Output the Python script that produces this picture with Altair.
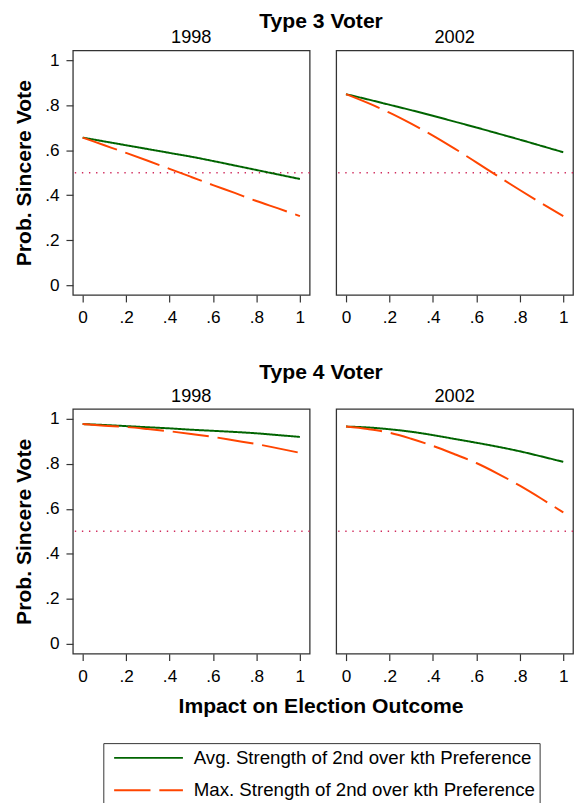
import altair as alt
import pandas as pd

# ---------------- data ----------------
impact = [0.0, 0.1, 0.2, 0.3, 0.4, 0.5, 0.6, 0.7, 0.8, 0.9, 1.0]
series_names = ["Avg. Strength of 2nd over kth Preference",
                "Max. Strength of 2nd over kth Preference"]
years = ["1998", "2002"]
voter_types = ["Type 3 Voter", "Type 4 Voter"]

t3_1998_avg = [0.656, 0.639, 0.622, 0.605, 0.588, 0.571, 0.552, 0.532, 0.512, 0.492, 0.472]
t3_1998_max = [0.656, 0.622, 0.588, 0.553, 0.517, 0.481, 0.445, 0.410, 0.374, 0.341, 0.307]
t3_2002_avg = [0.849, 0.826, 0.802, 0.778, 0.753, 0.727, 0.701, 0.674, 0.647, 0.619, 0.591]
t3_2002_max = [0.849, 0.810, 0.767, 0.718, 0.665, 0.607, 0.546, 0.484, 0.423, 0.364, 0.307]
t4_1998_avg = [0.977, 0.973, 0.968, 0.963, 0.958, 0.952, 0.947, 0.942, 0.936, 0.928, 0.920]
t4_1998_max = [0.977, 0.970, 0.964, 0.955, 0.945, 0.933, 0.920, 0.904, 0.888, 0.869, 0.849]
t4_2002_avg = [0.966, 0.962, 0.954, 0.943, 0.928, 0.911, 0.894, 0.876, 0.856, 0.833, 0.809]
t4_2002_max = [0.966, 0.955, 0.939, 0.912, 0.880, 0.843, 0.804, 0.756, 0.703, 0.645, 0.584]

threshold = [0.5]
tick_values = [0, 0.2, 0.4, 0.6, 0.8, 1]

panels = {
    ("Type 3 Voter", "1998"): (t3_1998_avg, t3_1998_max),
    ("Type 3 Voter", "2002"): (t3_2002_avg, t3_2002_max),
    ("Type 4 Voter", "1998"): (t4_1998_avg, t4_1998_max),
    ("Type 4 Voter", "2002"): (t4_2002_avg, t4_2002_max),
}

rows = []
for (vt, yr), (avg, mx) in panels.items():
    for xv, a, m in zip(impact, avg, mx):
        rows.append({"voter": vt, "year": yr, "impact": xv, "prob": a, "series": series_names[0]})
        rows.append({"voter": vt, "year": yr, "impact": xv, "prob": m, "series": series_names[1]})
df = pd.DataFrame(rows)
ref_df = pd.DataFrame({"prob": threshold})

# ---------------- styling ----------------
FONT = "Liberation Sans"
GREEN = "#006400"
ORANGE = "#ff4500"
DOT = "#d02a5c"
PW, PH = 241, 249
TITLE_SIZE = 21.5

label_expr = ("datum.value == 0 ? '0' : datum.value == 1 ? '1' : "
              "replace(format(datum.value, '.1f'), '0.', '.')")

legend = alt.Legend(
    title=None, orient="none", legendX=31, legendY=705, direction="vertical",
    symbolType="M-1,0H6", symbolSize=400, symbolStrokeWidth=2,
    labelOffset=60, labelFontSize=19, labelFont=FONT, labelColor="black",
    labelLimit=600, strokeColor="#333333", fillColor="white", padding=4,
    rowPadding=12, symbolOffset=6,
)

x_scale = alt.Scale(domain=[-0.045, 1.045], nice=False, zero=False)
y_scale = alt.Scale(domain=[-0.044, 1.044], nice=False, zero=False)


def panel(vt, yr, left):
    d = df[(df["voter"] == vt) & (df["year"] == yr)]
    x_axis = alt.Axis(values=tick_values, labelExpr=label_expr, title=None)
    if left:
        y_axis = alt.Axis(values=tick_values, labelExpr=label_expr,
                          title="Prob. Sincere Vote", titlePadding=10)
    else:
        y_axis = None
    lines = alt.Chart(d).mark_line(strokeWidth=2, interpolate="monotone").encode(
        x=alt.X("impact:Q", scale=x_scale, axis=x_axis),
        y=alt.Y("prob:Q", scale=y_scale, axis=y_axis),
        color=alt.Color("series:N", scale=alt.Scale(domain=series_names, range=[GREEN, ORANGE]),
                        legend=legend),
        strokeDash=alt.StrokeDash("series:N",
                                  scale=alt.Scale(domain=series_names, range=[[1, 0], [37, 9]]),
                                  legend=legend),
    )
    rule = alt.Chart(ref_df).mark_rule(color=DOT, strokeDash=[1.4, 5.8], strokeWidth=1.5).encode(
        y=alt.Y("prob:Q", scale=y_scale, axis=y_axis),
    )
    return alt.layer(rule, lines).properties(
        width=PW, height=PH,
        title=alt.TitleParams(yr, fontSize=18.5, fontWeight="normal", font=FONT,
                              color="black", offset=4),
    )


def row(vt, title_offset):
    return alt.hconcat(
        panel(vt, "1998", True),
        panel(vt, "2002", False),
        spacing=23,
        title=alt.TitleParams(vt, fontSize=TITLE_SIZE, fontWeight="bold", font=FONT, color="black",
                              anchor="middle", dx=28, offset=title_offset),
    )


row3 = row("Type 3 Voter", -4.5)
row4 = alt.vconcat(
    row("Type 4 Voter", 2.5),
    title=alt.TitleParams("Impact on Election Outcome", orient="bottom", fontSize=TITLE_SIZE,
                          fontWeight="bold", font=FONT, color="black", anchor="middle",
                          dx=28, offset=11),
)

chart = alt.vconcat(row3, row4, spacing=35).properties(
    padding={"left": 4, "top": -5, "right": 0, "bottom": 0}
).configure_view(
    stroke="#333333", strokeWidth=1.3
).configure_axis(
    domain=False, grid=False, tickColor="#333333", tickSize=7, tickWidth=1.2,
    labelFont=FONT, labelFontSize=17.5, labelColor="black", labelPadding=7,
    titleFont=FONT, titleFontSize=TITLE_SIZE, titleFontWeight="bold", titleColor="black",
)

chart.save("out.html", embed_options={"renderer": "svg", "actions": False})
